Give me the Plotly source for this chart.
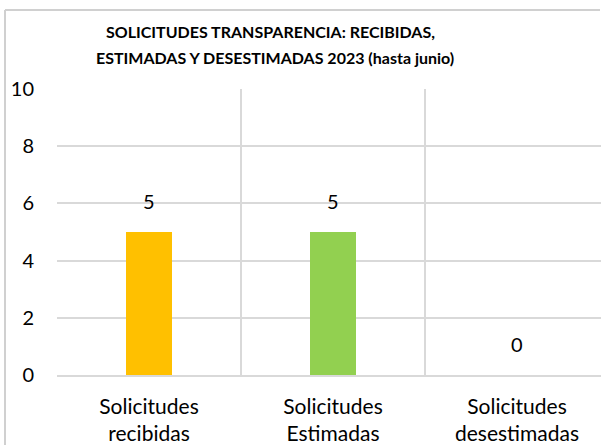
import plotly.graph_objects as go

categories = ["Solicitudes<br>recibidas", "Solicitudes<br>Estimadas", "Solicitudes<br>desestimadas"]
values = [5, 5, 0]
colors = ["#FFC000", "#92D050", "#5B9BD5"]
title_lines = ["SOLICITUDES TRANSPARENCIA: RECIBIDAS,", "ESTIMADAS Y DESESTIMADAS 2023 (hasta junio)"]
y_ticks = [0, 2, 4, 6, 8, 10]

W, H = 601, 446
L, R, T, B = 57, 0, 89, 71
pw = W - L - R
ph = H - T - B
FONT = "Lato"

fig = go.Figure(go.Bar(
    x=categories, y=values, marker=dict(color=colors, line=dict(width=0)),
    width=0.25, hoverinfo="skip",
))

px_x = lambda p: (p - L) / pw
px_y = lambda p: 1 - (p - T) / ph

label_ann = [dict(
    x=c, y=v, xref="x", yref="y", text=str(v), showarrow=False,
    yanchor="bottom", yshift=17, font=dict(size=20, family=FONT, color="#000000"),
) for c, v in zip(categories, values)]

title_ann = [
    dict(text="<b>%s</b>" % title_lines[0], xref="paper", yref="paper",
         x=px_x(270), y=px_y(31), xanchor="center", yanchor="middle",
         showarrow=False, font=dict(size=16, family=FONT, color="#000000")),
    dict(text="<b>%s</b>" % title_lines[1], xref="paper", yref="paper",
         x=px_x(275), y=px_y(57), xanchor="center", yanchor="middle",
         showarrow=False, font=dict(size=16, family=FONT, color="#000000")),
]

border = dict(color="#D0D0D0", width=2)

fig.update_layout(
    width=W, height=H,
    margin=dict(l=L, r=R, t=T, b=B, autoexpand=False),
    paper_bgcolor="white", plot_bgcolor="white",
    showlegend=False,
    font=dict(family=FONT, color="#000000"),
    xaxis=dict(
        type="category", range=[-0.5, -0.5 + pw / 184.0], tickson="boundaries",
        showgrid=True, gridcolor="#D9D9D9", gridwidth=1.5,
        ticks="", tickfont=dict(size=21, color="#000000"), ticklabelstandoff=12,
        showline=True, linecolor="#D9D9D9", linewidth=1.5,
        fixedrange=True, automargin=False,
    ),
    yaxis=dict(
        range=[0, 10], tickvals=y_ticks, showgrid=True, gridcolor="#D9D9D9", gridwidth=1.5,
        tickfont=dict(size=20, color="#000000"), ticklabelstandoff=22,
        zeroline=False, showline=False, automargin=False,
    ),
    annotations=label_ann + title_ann,
    shapes=[
        dict(type="line", xref="paper", yref="paper", x0=px_x(5), x1=px_x(5),
             y0=px_y(10), y1=px_y(445), line=border),
        dict(type="line", xref="paper", yref="paper", x0=px_x(5), x1=px_x(600),
             y0=px_y(10), y1=px_y(10), line=border),
    ],
)

fig.write_html("out.html", config={"displayModeBar": False},
               post_script="document.body.style.margin='0';")
